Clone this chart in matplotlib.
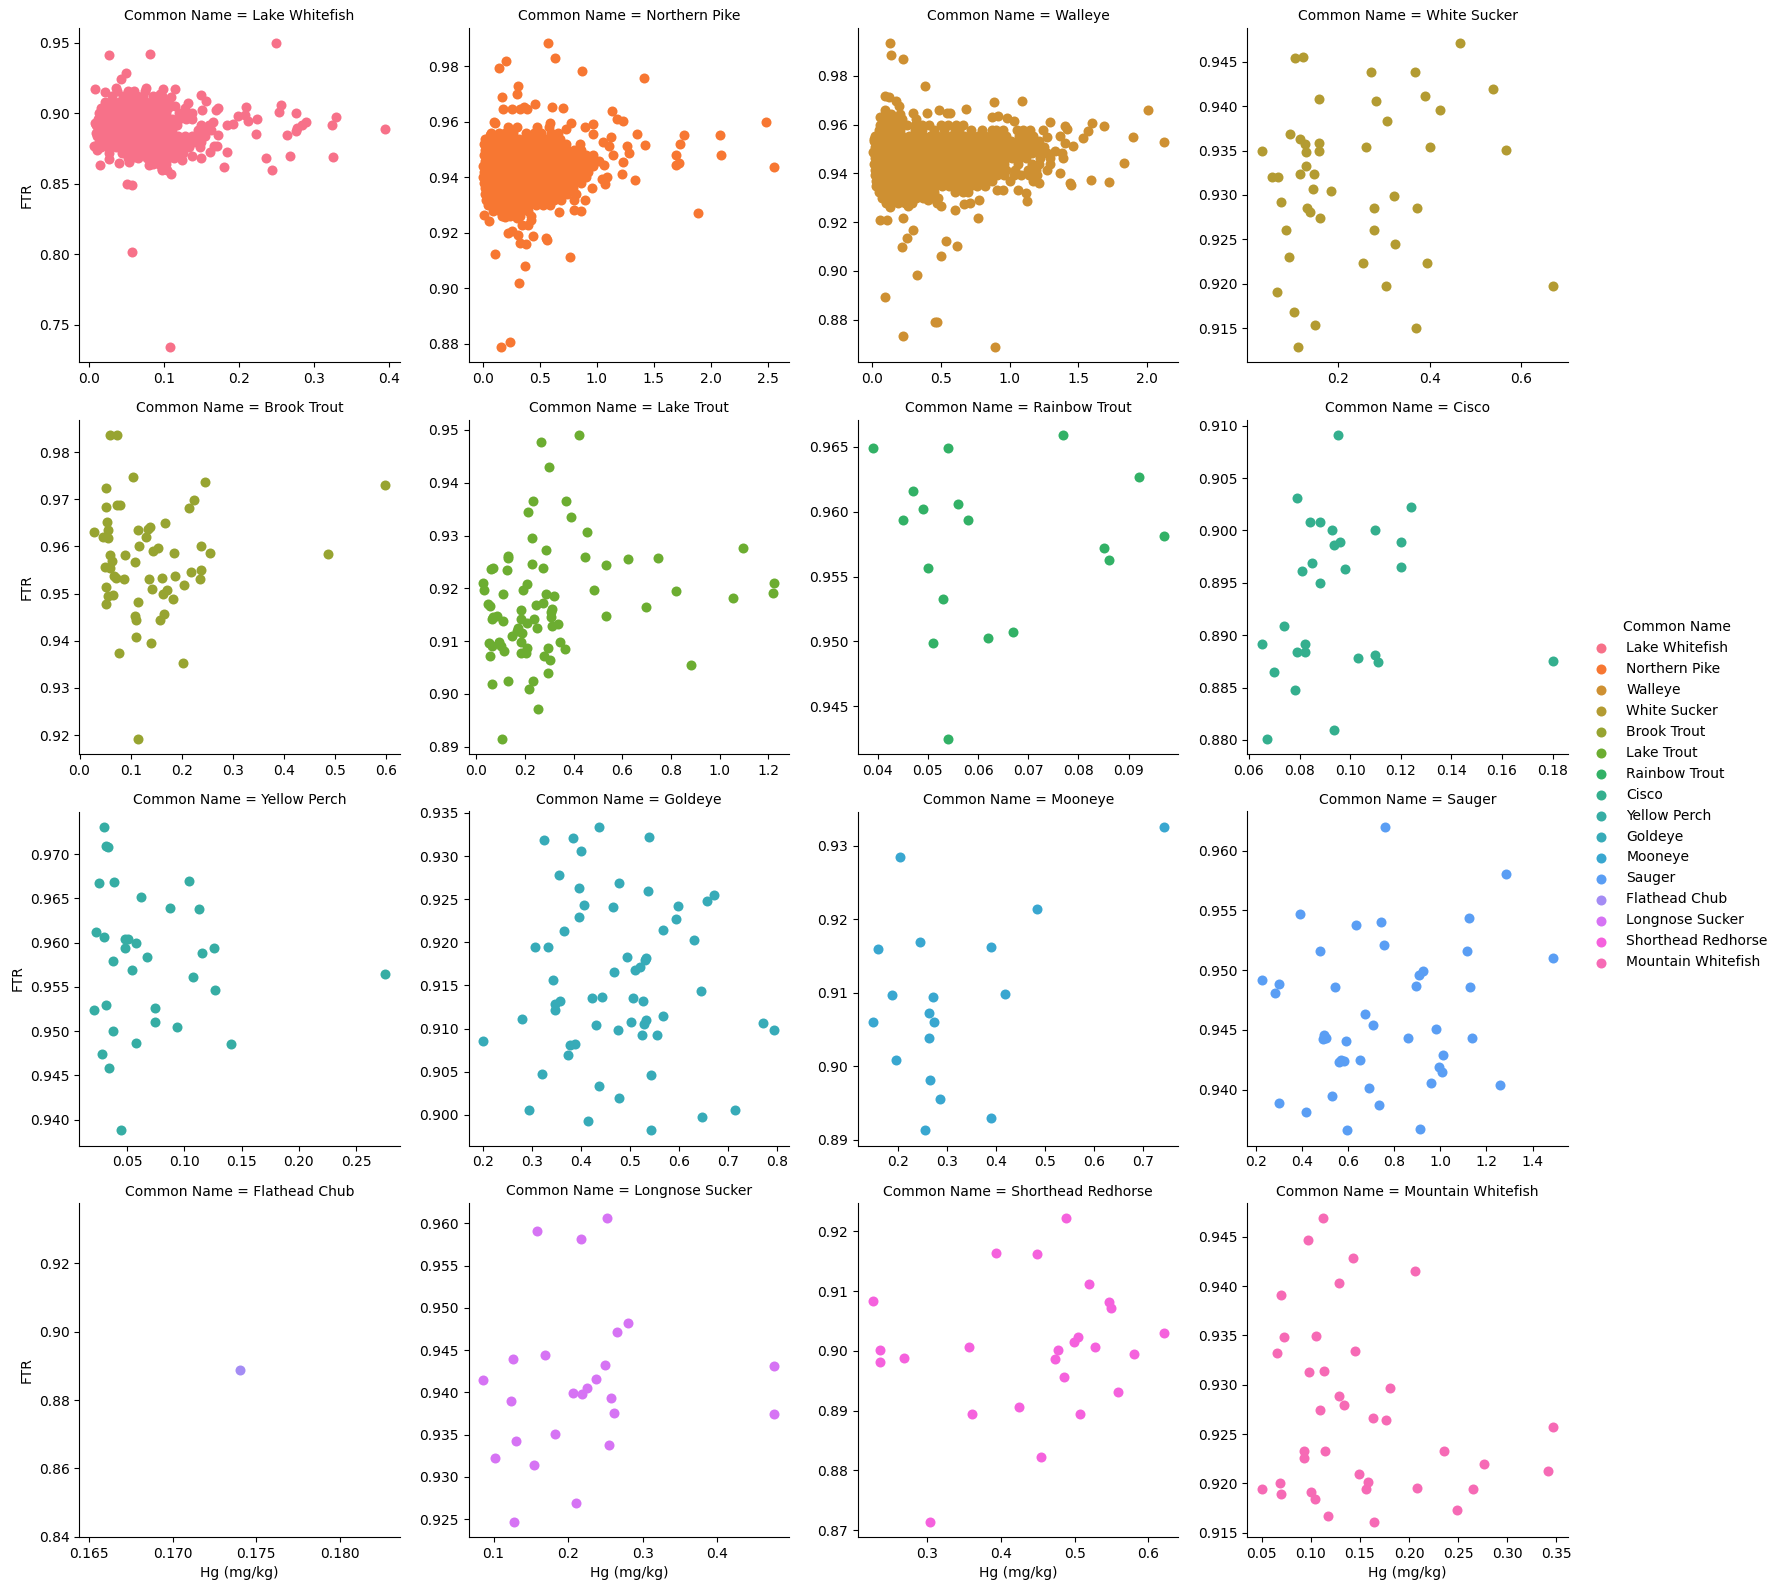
import matplotlib
matplotlib.use("Agg")
import matplotlib.pyplot as plt
from matplotlib.ticker import MultipleLocator
import seaborn as sns

species = ["Lake Whitefish", "Northern Pike", "Walleye", "White Sucker", "Brook Trout", "Lake Trout",
           "Rainbow Trout", "Cisco", "Yellow Perch", "Goldeye", "Mooneye", "Sauger", "Flathead Chub",
           "Longnose Sucker", "Shorthead Redhorse", "Mountain Whitefish"]

# The three largest panels are overplotted: their separate outer points are read from the picture,
# while the *_core rows are hand-typed estimates that reproduce the solid blob's outline only.
lake_whitefish_core = [
    (.916, [.038, .052, .060, .075]),
    (.912, [.031, .045, .055, .064, .072, .085, .098]),
    (.908, [.022, .031, .040, .049, .058, .067, .076, .085, .094, .105]),
    (.904, [.016, .025, .034, .043, .052, .061, .070, .079, .088, .097, .106, .128]),
    (.900, [.013, .022, .031, .040, .049, .058, .067, .076, .085, .094, .103, .120, .129, .138]),
    (.896, [.012, .021, .030, .039, .048, .057, .066, .075, .084, .093, .102, .111, .120, .129, .138]),
    (.892, [.010, .019, .028, .037, .046, .055, .064, .073, .082, .091, .100, .109, .118, .150, .160]),
    (.888, [.012, .021, .030, .039, .048, .057, .066, .075, .084, .093, .102, .111, .146, .155, .163]),
    (.884, [.011, .020, .029, .038, .047, .056, .065, .074, .083, .092, .101, .110, .119, .128, .137, .146, .155]),
    (.880, [.014, .023, .032, .041, .050, .059, .068, .077, .086, .095, .104, .113, .122, .131, .140, .149]),
    (.876, [.016, .025, .036, .045, .052, .061, .070, .079, .088, .097, .106, .115, .124, .133, .148]),
    (.872, [.044, .053, .062, .071, .080, .089, .098, .107, .116, .125]),
    (.868, [.052, .065, .078, .087, .096, .105, .114]),
    (.864, [.085, .094, .103]),
    (.860, [.098, .104]),
]
lake_whitefish_outer = [
    (.249, .9498), (.0267, .9412), (.0818, .9419), (.0493, .9289), (.0427, .9242), (.008, .9171), (.0213, .9149),
    (.0364, .9178), (.076, .9182), (.0987, .9171), (.1147, .9171), (.149, .9133), (.109, .9114), (.0947, .9135),
    (.156, .909), (.132, .9076), (.1147, .9055), (.151, .9024), (.170, .9024), (.172, .9036), (.209, .9047),
    (.256, .9062), (.253, .9007), (.276, .90), (.329, .8972), (.199, .8983), (.208, .8988), (.224, .8962),
    (.212, .8945), (.184, .8919), (.192, .8922), (.290, .8936), (.284, .8917), (.277, .8893), (.276, .8872),
    (.324, .8915), (.395, .8886), (.223, .8851), (.264, .8844), (.172, .8846), (.165, .8936), (.184, .8723),
    (.236, .8687), (.268, .8701), (.325, .8694), (.244, .8595), (.18, .8623), (.149, .868), (.109, .8573),
    (.097, .8602), (.08, .8633), (.0147, .8633), (.040, .8645), (.0267, .8673), (.0267, .8716), (.0107, .8737),
    (.0067, .8768), (.0507, .8502), (.0582, .8495), (.0573, .8019), (.108, .7344), (.1244, .8668), (.138, .8701),
    (.167, .877), (.171, .877), (.162, .8723), (.053, .8652), (.06, .8692), (.0084, .8929), (.0093, .8858),
]

northern_pike_core = [
    (.958, [.22, .30, .48, .58]),
    (.956, [.07, .14, .20, .27, .38, .45, .51, .60, .66]),
    (.954, [.02, .08, .14, .20, .26, .32, .38, .44, .50, .56, .62, .68]),
    (.952, [.01, .07, .13, .19, .25, .31, .37, .43, .49, .55, .61, .67, .73, .85]),
    (.950, [.02, .08, .14, .20, .26, .32, .38, .44, .50, .56, .62, .68, .74, .80, .86]),
    (.948, [.01, .07, .13, .19, .25, .31, .37, .43, .49, .55, .61, .67, .73, .79, .85, .91, .97]),
    (.946, [.02, .08, .14, .20, .26, .32, .38, .44, .50, .56, .62, .68, .74, .80, .86, .92, .98, 1.02]),
    (.944, [.005, .07, .13, .19, .25, .31, .37, .43, .49, .55, .61, .67, .73, .79, .85, .91, .97]),
    (.942, [.01, .08, .14, .20, .26, .32, .38, .44, .50, .56, .62, .68, .74, .80, .86, .92]),
    (.940, [.005, .07, .13, .19, .25, .31, .37, .43, .49, .55, .61, .67, .73, .79, .85, .91]),
    (.938, [.01, .08, .14, .20, .26, .32, .38, .44, .50, .56, .62, .68, .74, .80, .86]),
    (.936, [.02, .07, .13, .19, .25, .31, .37, .43, .49, .55, .61, .67, .73, .79]),
    (.934, [.02, .08, .14, .20, .26, .32, .38, .44, .50, .56, .62, .68, .74, .82]),
    (.932, [.03, .09, .15, .21, .27, .33, .39, .45, .51, .57, .63, .69, .80]),
    (.930, [.05, .11, .17, .23, .29, .35, .41, .47, .53, .59]),
    (.928, [.09, .15, .21, .27, .33, .40]),
    (.926, [.17, .24, .33, .42]),
]
northern_pike_outer = [
    (.576, .9884), (.637, .9829), (.148, .9796), (.203, .9818), (.872, .9783), (1.413, .9758), (.308, .9731),
    (.299, .9699), (.174, .9689), (.183, .9648), (.256, .9646), (.326, .9646), (.36, .9655), (.39, .9645),
    (.456, .9663), (.605, .9655), (.709, .9652), (1.134, .9639), (1.18, .961), (1.23, .9602), (2.485, .9599),
    (.096, .96), (.105, .9595), (1.352, .9558), (1.765, .9554), (2.084, .9552), (1.422, .9516), (1.727, .9519),
    (1.695, .948), (2.093, .948), (1.718, .9453), (1.695, .9443), (2.558, .9436), (1.884, .9273), (1.334, .9389),
    (1.221, .9411), (1.23, .9457), (1.285, .9487), (1.267, .9514), (1.093, .9402), (1.044, .9396), (1.073, .9376),
    (.959, .9363), (.898, .9317), (.863, .9277), (.797, .9284), (.672, .9275), (.015, .9266), (.052, .9241),
    (.198, .9258), (.302, .9252), (.427, .9248), (.343, .9227), (.401, .9227), (.227, .9198), (.262, .9206),
    (.308, .9194), (.439, .919), (.331, .9165), (.378, .9161), (.552, .9183), (.561, .9176), (.105, .9122),
    (.767, .9114), (.369, .9082), (.323, .9020), (.244, .8807), (.157, .8789), (.971, .9592), (.895, .9583),
    (.776, .9595), (.727, .9573), (.587, .9595), (.968, .9555), (.064, .9553), (1.122, .9547), (1.052, .9529),
    (1.108, .9514), (1.142, .948), (1.064, .9443),
]

walleye_core = [
    (.9645, [.09, .14, .20]),
    (.9622, [.07, .12, .17, .22, .32]),
    (.9600, [.06, .11, .16, .21, .25, .31, .36, .41, .50, .55, .61, .66]),
    (.9577, [.05, .10, .15, .20, .31, .36, .45, .52, .60, .63, .72, .80, .87, .90, .95, 1.05, 1.10, 1.15]),
    (.9554, [.02, .07, .12, .17, .22, .27, .32, .37, .42, .47, .52, .57, .62, .67, .72, .77, .82, .87, .92, .97, 1.07, 1.12, 1.17]),
    (.9531, [.01, .06, .11, .16, .21, .26, .31, .36, .41, .46, .51, .56, .61, .66, .71, .76, .81, .86, .91, .96, 1.01, 1.06, 1.11, 1.16, 1.21]),
    (.9508, [.02, .07, .12, .17, .22, .27, .32, .37, .42, .47, .52, .57, .62, .67, .72, .77, .82, .87, .92, .97, 1.02, 1.07, 1.12, 1.17, 1.22, 1.25]),
    (.9485, [.01, .06, .11, .16, .21, .26, .31, .36, .41, .46, .51, .56, .61, .66, .71, .76, .81, .86, .91, .96, 1.01, 1.06, 1.11, 1.16, 1.21, 1.27]),
    (.9462, [.02, .07, .12, .17, .22, .27, .32, .37, .42, .47, .52, .57, .62, .67, .72, .77, .82, .87, .92, .97, 1.02, 1.07, 1.12, 1.22, 1.29]),
    (.9439, [.01, .06, .11, .16, .21, .26, .31, .36, .41, .46, .51, .56, .61, .66, .71, .76, .81, .86, .91, .96, 1.06, 1.16, 1.21, 1.29]),
    (.9416, [.02, .07, .12, .17, .22, .27, .32, .37, .42, .47, .52, .57, .62, .67, .72, .77, .82, .87, .92, .97, 1.04, 1.13, 1.19, 1.27]),
    (.9393, [.02, .06, .11, .16, .21, .26, .31, .36, .41, .46, .51, .56, .61, .66, .71, .76, .81, .86, .91, .96, 1.03, 1.08, 1.14, 1.20]),
    (.9370, [.03, .07, .12, .17, .22, .27, .32, .37, .42, .47, .52, .57, .62, .67, .72, .77, .82, .87, 1.00, 1.17]),
    (.9347, [.03, .06, .11, .16, .21, .26, .31, .36, .41, .46, .51, .56, .61, .66, .71, .76, .82]),
    (.9324, [.05, .10, .15, .20, .25, .30, .35, .40, .45, .60, .66, .70]),
    (.9301, [.07, .12, .17, .22, .27, .32, .37, .44, .48]),
    (.9278, [.10, .14, .19, .24, .29, .47]),
]
walleye_outer = [
    (.128, .9934), (.135, .9885), (.222, .9868), (.382, .976), (.097, .9719), (.126, .9715), (.174, .9695),
    (.196, .9678), (.889, .9692), (1.092, .9696), (.488, .9659), (.543, .9649), (.563, .9649), (.686, .9663),
    (.295, .9649), (.396, .9647), (.097, .9659), (.056, .963), (.913, .9634), (.87, .963), (2.005, .9659),
    (.981, .9626), (1.029, .9616), (1.295, .961), (1.599, .9605), (1.686, .9593), (1.401, .9593), (1.415, .9581),
    (1.57, .9573), (1.239, .9577), (1.896, .9548), (1.534, .9544), (2.121, .9527), (1.275, .9548), (1.367, .9555),
    (1.403, .9523), (1.457, .9511), (1.331, .949), (1.382, .9482), (1.391, .9463), (1.367, .94), (1.831, .9441),
    (1.592, .9375), (1.722, .9363), (1.44, .9359), (1.449, .9351), (1.215, .9359), (1.058, .9334), (1.121, .9318),
    (1.128, .9285), (.911, .933), (.954, .933), (.78, .9289), (.708, .9277), (.669, .9273), (.606, .9248),
    (.773, .9219), (.498, .9268), (.403, .9289), (.258, .9268), (.133, .9264), (.056, .9207), (.109, .9211),
    (.222, .9219), (.295, .9166), (.251, .9137), (.215, .91), (.534, .9121), (.614, .9104), (.498, .9063),
    (.324, .8985), (.092, .8895), (.454, .8792), (.469, .8792), (.222, .8734), (.896, .8689), (.012, .954),
    (.003, .9489),
]

white_sucker = [
    (.466, .9471), (.106, .9454), (.124, .9455), (.272, .9438), (.368, .9438), (.538, .9419), (.390, .9412),
    (.159, .9408), (.283, .9406), (.423, .9396), (.307, .9383), (.095, .9369), (.118, .9363), (.127, .9357),
    (.159, .9359), (.034, .9349), (.130, .9348), (.159, .9350), (.261, .9354), (.401, .9354), (.567, .9351),
    (.130, .9333), (.118, .9324), (.148, .9324), (.056, .9320), (.069, .9320), (.146, .9307), (.185, .9305),
    (.323, .9299), (.076, .9292), (.132, .9285), (.140, .9281), (.279, .9285), (.372, .9285), (.161, .9274),
    (.087, .9261), (.279, .9261), (.324, .9245), (.093, .9230), (.255, .9223), (.393, .9223), (.067, .9191),
    (.305, .9197), (.669, .9197), (.104, .9168), (.150, .9154), (.370, .9150), (.113, .9129),
]
brook_trout = [
    (.060, .9836), (.073, .9836), (.105, .9748), (.246, .9737), (.052, .9724), (.598, .9730), (.224, .9699),
    (.214, .9681), (.052, .9683), (.073, .9688), (.079, .9688), (.054, .9652), (.167, .9650), (.137, .9641),
    (.133, .9637), (.130, .9621), (.114, .9635), (.056, .9635), (.028, .9630), (.046, .9621), (.056, .9618),
    (.117, .9600), (.238, .9602), (.153, .9596), (.143, .9591), (.185, .9586), (.255, .9587), (.059, .9582),
    (.089, .9582), (.487, .9583), (.109, .9566), (.063, .9570), (.049, .9556), (.059, .9554), (.237, .9551),
    (.218, .9545), (.067, .9538), (.071, .9534), (.087, .9530), (.135, .9530), (.161, .9533), (.187, .9538),
    (.235, .9530), (.204, .9518), (.052, .9515), (.141, .9509), (.171, .9507), (.163, .9500), (.056, .9495),
    (.065, .9496), (.183, .9488), (.114, .9483), (.052, .9477), (.108, .9452), (.111, .9443), (.165, .9456),
    (.157, .9445), (.110, .9407), (.140, .9396), (.077, .9375), (.203, .9352), (.114, .9192),
]
lake_trout = [
    (.422, .9490), (.266, .9478), (.298, .9429), (.233, .9366), (.369, .9366), (.212, .9344), (.390, .9336),
    (.455, .9306), (.231, .9296), (.287, .9273), (1.097, .9277), (.132, .9262), (.132, .9257), (.447, .9260),
    (.625, .9256), (.745, .9258), (.535, .9245), (.231, .9247), (.071, .9239), (.063, .9237), (.126, .9235),
    (.275, .9239), (.208, .9208), (.193, .9197), (.029, .9210), (.031, .9197), (.111, .9189), (.287, .9189),
    (.321, .9185), (.485, .9196), (.822, .9194), (1.225, .9211), (1.221, .9192), (1.053, .9182), (.699, .9165),
    (.535, .9148), (.048, .9171), (.057, .9166), (.273, .9172), (.248, .9169), (.310, .9161), (.183, .9158),
    (.306, .9155), (.308, .9146), (.084, .9148), (.071, .9146), (.065, .9142), (.111, .9138), (.183, .9142),
    (.237, .9141), (.208, .9135), (.336, .9133), (.313, .9129), (.250, .9125), (.172, .9125), (.168, .9120),
    (.187, .9115), (.149, .9110), (.055, .9097), (.094, .9098), (.185, .9098), (.344, .9099), (.065, .9091),
    (.103, .9091), (.210, .9087), (.296, .9087), (.113, .9081), (.365, .9085), (.185, .9077), (.206, .9077),
    (.057, .9072), (.279, .9072), (.304, .9064), (.883, .9055), (.296, .9040), (.233, .9025), (.130, .9025),
    (.067, .9019), (.216, .9009), (.254, .8972), (.107, .8915),
]
rainbow_trout = [
    (.039, .9649), (.054, .9649), (.077, .9659), (.092, .9627), (.047, .9616), (.056, .9606), (.049, .9602),
    (.045, .9594), (.058, .9594), (.097, .9581), (.085, .9572), (.086, .9563), (.050, .9557), (.053, .9533),
    (.067, .9507), (.062, .9503), (.051, .9499), (.054, .9425),
]
cisco = [
    (.0950, .9091), (.0789, .9031), (.1239, .9022), (.0840, .9008), (.0879, .9008), (.0927, .9000), (.1098, .9000),
    (.0960, .8989), (.120, .8989), (.0938, .8986), (.0848, .8969), (.120, .8965), (.098, .8963), (.0809, .8961),
    (.0879, .8950), (.0738, .8909), (.0651, .8892), (.082, .8892), (.0789, .8884), (.082, .8884), (.1098, .8881),
    (.1031, .8878), (.111, .8874), (.1802, .8875), (.0698, .8865), (.0781, .8848), (.0938, .8809), (.0671, .8801),
]
yellow_perch = [
    (.030, .9731), (.0317, .9709), (.033, .9708), (.0254, .9667), (.0384, .9669), (.104, .9670), (.062, .9652),
    (.0875, .9639), (.113, .9638), (.0228, .9612), (.030, .9606), (.0478, .9604), (.051, .9604), (.0576, .9600),
    (.0478, .9594), (.1259, .9594), (.1152, .9588), (.0674, .9584), (.0375, .9579), (.0545, .9569), (.1076, .9561),
    (.2754, .9565), (.1268, .9547), (.0746, .9526), (.0317, .9529), (.021, .9524), (.0746, .9510), (.0938, .9505),
    (.0375, .9500), (.0576, .9487), (.1411, .9486), (.0281, .9474), (.0339, .9458), (.0446, .9388),
]
goldeye = [
    (.437, .9334), (.539, .9322), (.325, .9319), (.384, .9321), (.399, .9306), (.355, .9278), (.478, .9269),
    (.396, .9263), (.537, .9259), (.670, .9255), (.657, .9248), (.406, .9243), (.465, .9241), (.598, .9242),
    (.396, .9229), (.594, .9227), (.365, .9213), (.567, .9214), (.630, .9203), (.306, .9195), (.333, .9195),
    (.494, .9183), (.533, .9182), (.531, .9179), (.520, .9171), (.509, .9168), (.467, .9166), (.343, .9156),
    (.645, .9143), (.422, .9135), (.443, .9136), (.505, .9135), (.357, .9132), (.346, .9128), (.526, .9132),
    (.346, .9122), (.566, .9114), (.280, .9111), (.533, .9110), (.502, .9107), (.528, .9105), (.431, .9104),
    (.770, .9106), (.794, .9098), (.475, .9098), (.524, .9092), (.555, .9092), (.200, .9086), (.378, .9081),
    (.387, .9082), (.372, .9069), (.319, .9047), (.543, .9046), (.437, .9033), (.478, .9020), (.293, .9006),
    (.714, .9006), (.647, .8998), (.414, .8993), (.543, .8982),
]
mooneye = [
    (.743, .9326), (.204, .9285), (.484, .9214), (.245, .9169), (.390, .9162), (.159, .9160), (.186, .9097),
    (.271, .9094), (.417, .9098), (.263, .9073), (.147, .9061), (.273, .9061), (.263, .9038), (.194, .9008),
    (.265, .8981), (.284, .8956), (.390, .8930), (.255, .8913),
]
sauger = [
    (.759, .9620), (1.284, .9580), (.390, .9547), (1.124, .9544), (.742, .9540), (.634, .9538), (.755, .9521),
    (1.115, .9516), (.476, .9516), (1.489, .9510), (.923, .9499), (.906, .9496), (.226, .9492), (.299, .9488),
    (.545, .9486), (.893, .9487), (1.128, .9486), (.282, .9481), (.673, .9463), (.707, .9454), (.981, .9451),
    (.494, .9446), (.506, .9443), (.489, .9442), (.591, .9441), (.858, .9443), (1.137, .9443), (1.012, .9429),
    (.571, .9425), (.580, .9424), (.560, .9423), (.651, .9425), (.994, .9419), (1.009, .9415), (.958, .9406),
    (1.258, .9404), (.690, .9401), (.528, .9395), (.299, .9389), (.733, .9387), (.416, .9381), (.910, .9367),
    (.597, .9366),
]
flathead_chub = [(.174, .8888)]
longnose_sucker = [
    (.252, .9606), (.158, .9591), (.217, .9581), (.281, .9482), (.265, .9471), (.169, .9444), (.126, .9440),
    (.250, .9432), (.477, .9431), (.086, .9415), (.238, .9416), (.226, .9405), (.206, .9399), (.219, .9398),
    (.258, .9393), (.123, .9390), (.261, .9376), (.476, .9375), (.182, .9351), (.130, .9342), (.255, .9338),
    (.102, .9322), (.154, .9314), (.210, .9269), (.127, .9247),
]
shorthead_redhorse = [
    (.488, .9222), (.394, .9164), (.449, .9162), (.520, .9112), (.226, .9083), (.547, .9082), (.550, .9072),
    (.621, .9030), (.504, .9023), (.499, .9015), (.357, .9006), (.527, .9006), (.236, .9001), (.477, .9001),
    (.580, .8994), (.269, .8988), (.474, .8986), (.236, .8981), (.485, .8956), (.559, .8932), (.425, .8906),
    (.361, .8894), (.507, .8894), (.455, .8823), (.304, .8714),
]
mountain_whitefish = [
    (.112, .9469), (.0967, .9447), (.143, .9429), (.206, .9415), (.129, .9403), (.070, .9391), (.0723, .9348),
    (.105, .9349), (.065, .9332), (.145, .9334), (.0977, .9313), (.113, .9314), (.181, .9297), (.129, .9289),
    (.134, .9280), (.109, .9274), (.163, .9266), (.177, .9264), (.347, .9257), (.0926, .9233), (.114, .9233),
    (.236, .9233), (.0926, .9226), (.276, .9220), (.342, .9213), (.149, .9209), (.158, .9201), (.0683, .9200),
    (.05, .9194), (.156, .9194), (.208, .9195), (.265, .9194), (.0997, .9191), (.0693, .9189), (.104, .9184),
    (.249, .9173), (.117, .9167), (.164, .9161),
]


def expand(rows):
    return [(x, y) for y, xs in rows for x in xs]


panels = [
    lake_whitefish_outer + expand(lake_whitefish_core),
    northern_pike_outer + expand(northern_pike_core),
    walleye_outer + expand(walleye_core),
    white_sucker, brook_trout, lake_trout, rainbow_trout, cisco, yellow_perch, goldeye, mooneye, sauger,
    flathead_chub, longnose_sucker, shorthead_redhorse, mountain_whitefish,
]

W, H = 1779, 1589
fig = plt.figure(figsize=(W / 100, H / 100), dpi=100)
colors = sns.color_palette("husl", 16)
lefts = [79.3, 468.6, 858.0, 1247.3]
tops = [28.0, 420.0, 811.5, 1203.0]
aw, ah = 320.4, 334.0
handles = []
for i, (name, pts) in enumerate(zip(species, panels)):
    r, c = divmod(i, 4)
    ax = fig.add_axes([lefts[c] / W, 1 - (tops[r] + ah) / H, aw / W, ah / H])
    xs, ys = zip(*pts)
    h = ax.scatter(xs, ys, color=colors[i], s=52, linewidths=0, label=name)
    handles.append(h)
    ax.set_title(f"Common Name = {name}", fontsize=10, pad=5.4)
    ax.spines["top"].set_visible(False)
    ax.spines["right"].set_visible(False)
    if name == "White Sucker":
        ax.xaxis.set_major_locator(MultipleLocator(0.2))
    if c == 0:
        ax.set_ylabel("FTR")
    if r == 3:
        ax.set_xlabel("Hg (mg/kg)")

fig.legend(handles, species, title="Common Name", frameon=False, loc="center right",
           bbox_to_anchor=(1.0006, 0.4999))
fig.savefig("out.png", dpi=100)
